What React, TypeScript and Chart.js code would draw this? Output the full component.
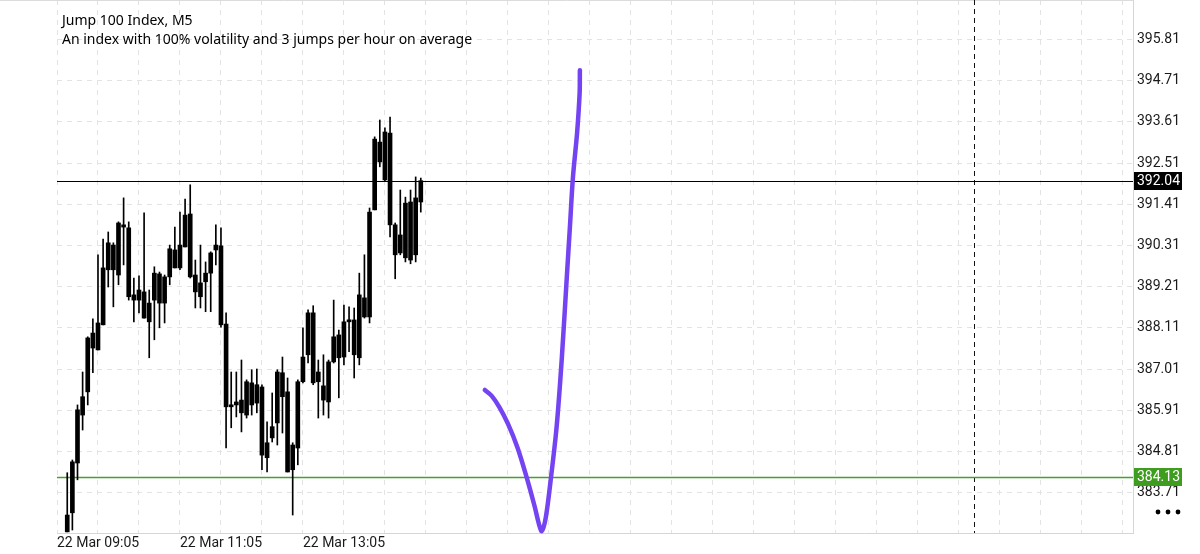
import React, { useEffect, useRef } from 'react';
import { Chart, registerables } from 'chart.js';

Chart.register(...registerables);

// ---- data ----
const titleLine1 = 'Jump 100 Index, M5';
const titleLine2 = 'An index with 100% volatility and 3 jumps per hour on average';

// bar number (M5 bars since 22 Mar 09:05) of the first candle
const firstCandleBar = 2;

const opens = [
  382.66, 383.17, 384.50, 385.78, 386.40, 387.57, 387.52, 388.19, 389.66, 390.32,
  389.52, 390.80, 390.78, 388.85, 388.85, 389.07, 388.77, 388.85, 389.55, 388.77,
  389.47, 390.19, 389.71, 390.27, 391.15, 389.52, 389.31, 389.34, 389.57, 390.19,
  390.30, 388.21, 386.00, 386.05, 386.18, 385.78, 386.64, 386.10, 386.53, 385.04,
  385.17, 385.57, 386.91, 386.40, 384.32, 384.90, 386.67, 387.39, 388.51, 386.93,
  386.56, 386.13, 387.20, 387.92, 387.33, 388.27, 388.32, 387.31, 388.91, 388.40,
  391.26, 393.07, 392.06, 393.31, 390.86, 390.11, 389.98, 391.47, 390.06, 391.47,
];
const highs = [
  384.24, 384.58, 386.05, 386.93, 387.87, 388.35, 390.06, 390.48, 390.67, 390.38,
  390.94, 391.58, 390.94, 389.44, 389.50, 391.18, 389.12, 389.74, 389.60, 389.52,
  390.32, 390.80, 391.20, 391.55, 391.93, 389.92, 390.32, 389.87, 390.14, 390.86,
  390.78, 388.51, 386.93, 386.93, 387.25, 386.72, 386.99, 387.01, 386.59, 385.60,
  386.37, 386.99, 387.33, 386.77, 385.04, 386.72, 388.11, 388.59, 388.70, 387.25,
  387.39, 387.25, 388.85, 388.05, 388.72, 388.67, 388.64, 389.57, 390.06, 391.31,
  393.21, 393.66, 393.45, 393.74, 390.91, 391.79, 391.60, 391.79, 392.14, 392.11,
];
const lows = [
  382.66, 382.71, 384.05, 385.38, 386.05, 386.91, 387.52, 388.19, 389.20, 388.67,
  389.26, 389.79, 388.85, 388.27, 388.51, 388.37, 387.31, 387.79, 388.11, 388.24,
  389.26, 389.71, 389.66, 390.27, 389.44, 388.64, 388.64, 388.54, 388.54, 389.79,
  388.13, 384.90, 385.44, 385.73, 385.33, 385.70, 385.78, 385.84, 384.32, 384.26,
  385.06, 384.98, 385.30, 384.26, 383.11, 384.45, 386.64, 387.17, 386.59, 385.70,
  385.78, 385.70, 387.17, 386.24, 387.12, 387.47, 386.77, 387.12, 388.37, 388.24,
  391.26, 392.41, 392.01, 390.54, 389.42, 390.06, 389.87, 389.82, 389.87, 391.20,
];
const closes = [
  383.11, 384.53, 385.92, 386.27, 387.84, 387.97, 388.24, 389.71, 390.38, 389.66,
  390.91, 390.86, 388.94, 388.99, 389.12, 388.37, 388.27, 389.57, 388.77, 389.47,
  390.22, 389.71, 390.32, 391.12, 389.47, 389.07, 388.94, 389.57, 390.11, 390.32,
  388.19, 386.00, 386.05, 386.13, 385.84, 386.67, 386.05, 386.59, 384.71, 384.64,
  385.47, 386.93, 386.27, 384.26, 384.98, 386.67, 387.33, 388.51, 386.64, 386.67,
  386.18, 387.20, 387.87, 387.31, 388.27, 388.32, 387.39, 388.99, 388.40, 391.20,
  393.15, 392.54, 393.34, 390.86, 390.06, 390.59, 391.44, 389.92, 391.58, 392.04,
];

const yTickValues = [383.71, 384.81, 385.91, 387.01, 388.11, 389.21, 390.31, 391.41, 392.51, 393.61, 394.71, 395.81];
const timeTickBars = [0, 24, 48];
const timeTickLabels = ['22 Mar 09:05', '22 Mar 11:05', '22 Mar 13:05'];

const bidPrice = 392.04;
const levelPrice = 384.13;
const separatorBar = 179;

// hand-drawn pen stroke (bar number, price)
const penBars = [83.5, 84.8, 86.3, 88.0, 89.9, 91.8, 93.2, 94.1, 94.6, 95.4, 96.4, 97.5, 98.5, 99.5, 100.1, 100.7, 101.5, 102.0, 102.05];
const penPrices = [386.45, 386.30, 386.00, 385.55, 384.90, 384.05, 383.35, 382.85, 382.68, 383.05, 384.10, 385.45, 387.25, 389.47, 390.80, 392.14, 393.31, 394.38, 394.99];

// view range
const xMin = 0;
const xMax = 210;
const yMin = 382.63;
const yMax = 396.865;

const overlayPlugin = {
  id: 'mtOverlay',
  beforeDatasetsDraw(chart: any) {
    const { ctx, chartArea, scales } = chart;
    const x = scales.x;
    const y = scales.y;
    ctx.save();
    // top border
    ctx.strokeStyle = '#dcdcdc';
    ctx.lineWidth = 1;
    ctx.beginPath();
    ctx.moveTo(0, 0.5);
    ctx.lineTo(chartArea.right, 0.5);
    ctx.stroke();
    // separator dashed vertical line
    const sx = Math.round(x.getPixelForValue(separatorBar)) + 0.5;
    ctx.strokeStyle = '#111';
    ctx.setLineDash([5, 4]);
    ctx.beginPath();
    ctx.moveTo(sx, chartArea.top);
    ctx.lineTo(sx, chartArea.bottom);
    ctx.stroke();
    ctx.setLineDash([]);
    // bid line
    const by = Math.round(y.getPixelForValue(bidPrice)) + 0.5;
    ctx.strokeStyle = '#000';
    ctx.beginPath();
    ctx.moveTo(chartArea.left, by);
    ctx.lineTo(chartArea.right, by);
    ctx.stroke();
    // level line
    const gy = Math.round(y.getPixelForValue(levelPrice)) + 0.5;
    ctx.strokeStyle = '#4a9e2a';
    ctx.lineWidth = 1.5;
    ctx.beginPath();
    ctx.moveTo(chartArea.left, gy);
    ctx.lineTo(chartArea.right, gy);
    ctx.stroke();
    ctx.restore();
  },
  afterDraw(chart: any) {
    const { ctx, chartArea, scales } = chart;
    const y = scales.y;
    ctx.save();
    // title
    ctx.fillStyle = '#000';
    ctx.font = '14px "Noto Sans"';
    ctx.textBaseline = 'alphabetic';
    ctx.textAlign = 'left';
    ctx.fillText(titleLine1, 62, 25);
    ctx.fillText(titleLine2, 62, 44);
    // price tags
    const tag = (price: number, bg: string) => {
      const py = y.getPixelForValue(price);
      ctx.fillStyle = bg;
      ctx.fillRect(chartArea.right + 1, Math.round(py) - 9, 48, 18);
      ctx.fillStyle = '#fff';
      ctx.font = '14px Roboto';
      ctx.textBaseline = 'middle';
      ctx.fillText(price.toFixed(2), chartArea.right + 4, py + 0.5);
    };
    tag(bidPrice, '#000');
    tag(levelPrice, '#3e9c1f');
    // menu dots
    ctx.fillStyle = '#000';
    [1158, 1168, 1178].forEach((dx) => {
      ctx.beginPath();
      ctx.arc(dx, 512, 2.4, 0, Math.PI * 2);
      ctx.fill();
    });
    ctx.restore();
  },
};

export default function App() {
  const canvasRef = useRef<HTMLCanvasElement | null>(null);

  useEffect(() => {
    const canvas = canvasRef.current;
    if (!canvas) return;
    const wicks = lows.map((l, i) => ({ x: firstCandleBar + i, y: [l, highs[i]] }));
    const bodies = opens.map((o, i) => ({ x: firstCandleBar + i, y: [o, closes[i]] }));
    const pen = penBars.map((b, i) => ({ x: b, y: penPrices[i] }));

    const chart = new Chart(canvas, {
      type: 'bar',
      data: {
        datasets: [
          {
            type: 'bar',
            data: wicks as any,
            backgroundColor: '#000',
            barThickness: 1,
            grouped: false,
            borderWidth: 0,
            borderSkipped: false,
            order: 3,
          } as any,
          {
            type: 'bar',
            data: bodies as any,
            backgroundColor: '#000',
            barThickness: 4,
            minBarLength: 2,
            grouped: false,
            borderWidth: 0,
            borderSkipped: false,
            order: 2,
          } as any,
          {
            type: 'line',
            data: pen as any,
            borderColor: '#7443f2',
            borderWidth: 4.5,
            pointRadius: 0,
            tension: 0.3,
            borderCapStyle: 'round',
            borderJoinStyle: 'round',
            clip: false,
            order: 1,
          } as any,
        ],
      },
      options: {
        responsive: false,
        animation: false,
        events: [],
        layout: { padding: { left: 57, top: 0, right: 0, bottom: 0 } },
        plugins: { legend: { display: false }, tooltip: { enabled: false } },
        scales: {
          x: {
            type: 'linear',
            min: xMin,
            max: xMax,
            offset: false,
            afterBuildTicks: (scale: any) => {
              const t = [];
              for (let v = 0; v <= xMax; v += 8) t.push({ value: v });
              scale.ticks = t;
            },
            afterFit: (scale: any) => {
              scale.height = 21;
              scale.paddingLeft = 0;
              scale.paddingRight = 0;
            },
            grid: { color: '#e3e3e3', lineWidth: 1, drawTicks: false, offset: false },
            border: { display: true, color: '#d6d6d6', dash: [5, 5] },
            ticks: {
              autoSkip: false,
              maxRotation: 0,
              align: 'start',
              padding: 2,
              color: '#1a1a1a',
              font: { family: 'Roboto', size: 14 },
              callback: (v: any) => {
                const k = timeTickBars.indexOf(Number(v));
                return k >= 0 ? timeTickLabels[k] : '';
              },
            },
          },
          y: {
            type: 'linear',
            position: 'right',
            min: yMin,
            max: yMax,
            afterBuildTicks: (scale: any) => {
              scale.ticks = yTickValues.map((v) => ({ value: v }));
            },
            afterFit: (scale: any) => {
              scale.width = 67;
              scale.paddingTop = 0;
              scale.paddingBottom = 0;
            },
            grid: { color: '#e3e3e3', lineWidth: 1, drawTicks: false },
            border: { display: true, color: '#d6d6d6', dash: [5, 5] },
            ticks: {
              padding: 4,
              color: '#1a1a1a',
              font: { family: 'Roboto', size: 14 },
              callback: (v: any) => Number(v).toFixed(2),
            },
          },
        },
      } as any,
      plugins: [overlayPlugin],
    });
    return () => chart.destroy();
  }, []);

  return (
    <div style={{ position: 'fixed', left: 0, top: 0, width: 1200, height: 554, background: '#fff' }}>
      <canvas ref={canvasRef} width={1200} height={554} style={{ display: 'block' }} />
    </div>
  );
}
